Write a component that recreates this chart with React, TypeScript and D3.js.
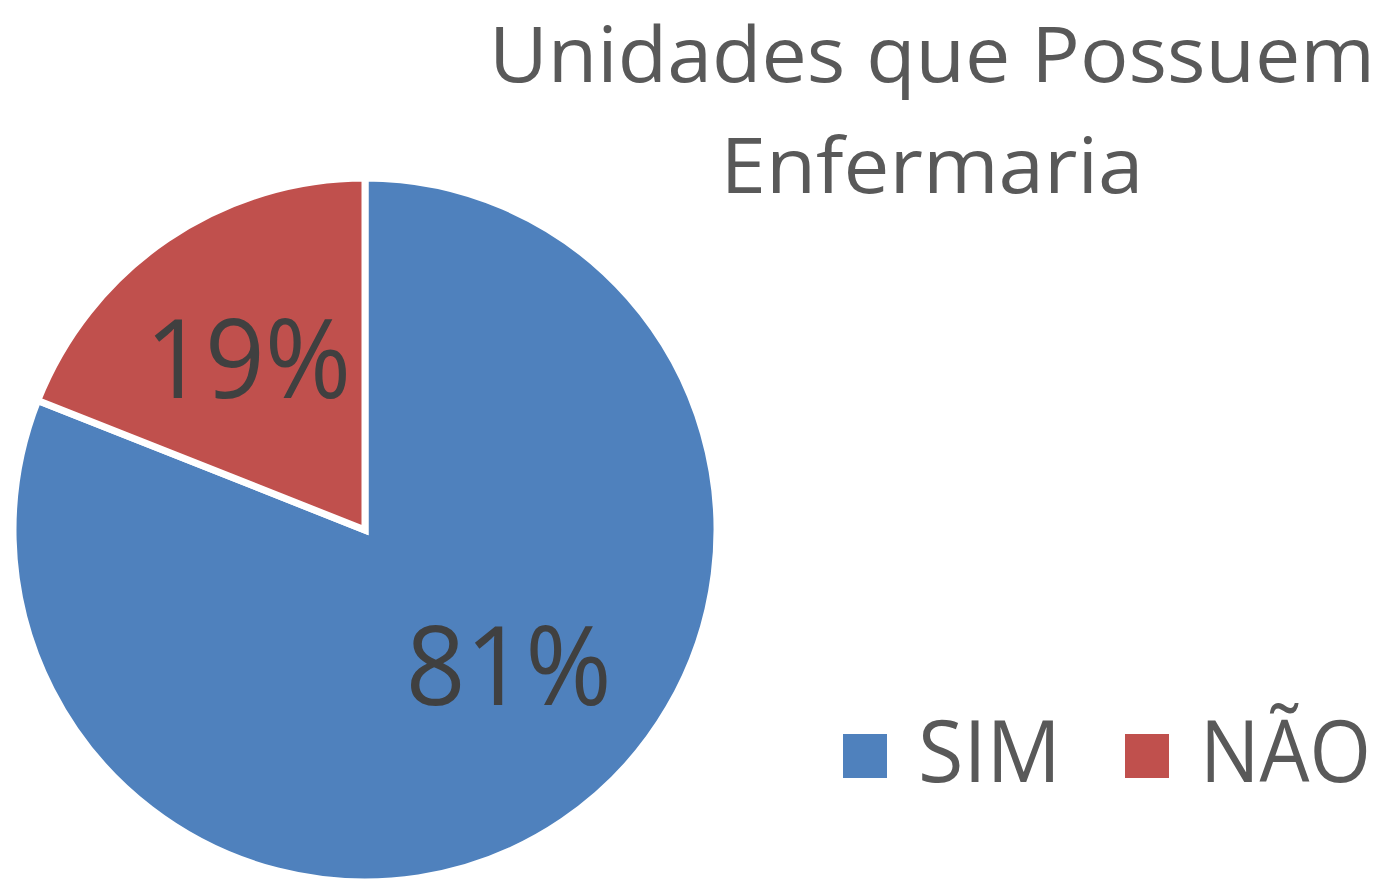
import React, { useEffect, useRef } from "react";
import * as d3 from "d3";

const categories = ["SIM", "NÃO"];
const values = [81, 19];
const colors = ["#4F81BD", "#C0504D"];
const titleLines = ["Unidades que Possuem", "Enfermaria"];

const WIDTH = 1393;
const HEIGHT = 880;
const FONT = "'Open Sans', 'DejaVu Sans', sans-serif";

function App() {
  const svgRef = useRef<SVGSVGElement>(null);

  useEffect(() => {
    if (!svgRef.current) return;
    const svg = d3.select(svgRef.current);
    svg.selectAll("*").remove();

    const pieData = categories.map((name, i) => ({ name, value: values[i] }));
    const total = d3.sum(values);

    const cx = 365;
    const cy = 530;
    const radius = 352;

    const color = d3.scaleOrdinal<string>().domain(categories).range(colors);

    const pie = d3
      .pie<{ name: string; value: number }>()
      .sort(null)
      .value((d) => d.value);

    const arc = d3
      .arc<d3.PieArcDatum<{ name: string; value: number }>>()
      .innerRadius(0)
      .outerRadius(radius);

    const g = svg.append("g").attr("transform", `translate(${cx},${cy})`);

    const arcs = pie(pieData);

    g.selectAll("path")
      .data(arcs)
      .enter()
      .append("path")
      .attr("d", arc)
      .attr("fill", (d) => color(d.data.name))
      .attr("stroke", "white")
      .attr("stroke-width", 7)
      .attr("stroke-linejoin", "miter");

    // label placement, roughly where excel puts them (best fit)
    const labelTweak: { [k: string]: { da: number; rf: number } } = {
      SIM: { da: -0.22, rf: 0.56 },
      NÃO: { da: 0, rf: 0.59 },
    };

    g.selectAll("text.lbl")
      .data(arcs)
      .enter()
      .append("text")
      .attr("class", "lbl")
      .attr("transform", (d) => {
        const t = labelTweak[d.data.name];
        const a = (d.startAngle + d.endAngle) / 2 + t.da;
        const r = radius * t.rf;
        return `translate(${Math.sin(a) * r},${-Math.cos(a) * r})`;
      })
      .attr("dy", "0.36em")
      .attr("text-anchor", "middle")
      .style("font-family", FONT)
      .style("font-size", "110px")
      .attr("textLength", 206)
      .attr("lengthAdjust", "spacingAndGlyphs")
      .style("fill", "#404040")
      .text((d) => `${Math.round((d.data.value / total) * 100)}%`);

    // title
    const title = svg.append("g").attr("transform", `translate(932,0)`);
    title
      .selectAll("text")
      .data(titleLines)
      .enter()
      .append("text")
      .attr("x", 0)
      .attr("y", (_, i) => 82 + i * 111)
      .attr("text-anchor", "middle")
      .style("font-family", FONT)
      .style("font-size", "76px")
      .attr("textLength", (_, i) => (i === 0 ? 886 : 423))
      .attr("lengthAdjust", "spacingAndGlyphs")
      .style("fill", "#595959")
      .text((d) => d);

    // legend
    const legendX = [843, 1125];
    const textW = [143, 171];
    const legend = svg.append("g");
    categories.forEach((name, i) => {
      const row = legend
        .append("g")
        .attr("transform", `translate(${legendX[i]},0)`);
      row
        .append("rect")
        .attr("x", 0)
        .attr("y", 734)
        .attr("width", 44)
        .attr("height", 44)
        .attr("fill", color(name));
      row
        .append("text")
        .attr("x", 75)
        .attr("y", 782)
        .style("font-family", FONT)
        .style("font-size", "86px")
        .attr("textLength", textW[i])
        .attr("lengthAdjust", "spacingAndGlyphs")
        .style("fill", "#595959")
        .text(name);
    });
  }, []);

  return (
    <svg
      ref={svgRef}
      width={WIDTH}
      height={HEIGHT}
      style={{ position: "absolute", left: 0, top: 0, background: "white" }}
    ></svg>
  );
}

export default App;
